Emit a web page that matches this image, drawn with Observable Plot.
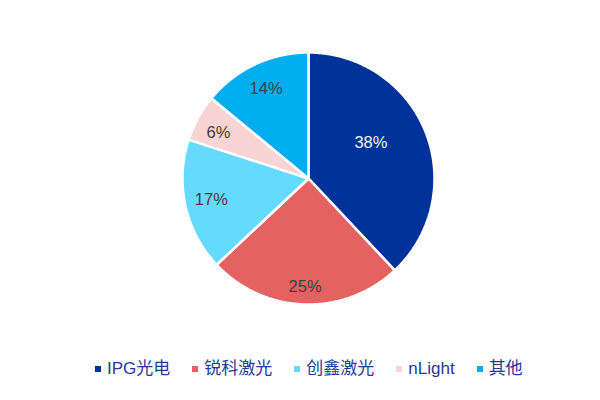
<!DOCTYPE html>
<html>
<head>
<meta charset="utf-8">
<script src="https://cdn.jsdelivr.net/npm/d3@7"></script>
<script src="https://cdn.jsdelivr.net/npm/@observablehq/plot@0.6"></script>
<style>
  html, body { margin: 0; padding: 0; background: #fff; }
  body { width: 600px; height: 400px; overflow: hidden; font-family: "Liberation Sans", Arial, "Noto Sans CJK SC", sans-serif; }
  #legend { display: flex; align-items: center; margin-top: 19px; padding-left: 95px; font-size: 17px; color: #23399A; line-height: 20px; }
  #legend .item { display: flex; align-items: center; margin-right: 22px; }
  #legend .sw { width: 6px; height: 6px; margin-right: 6px; }
</style>
</head>
<body>
<div id="chart"></div>
<script>
const names = ["IPG光电", "锐科激光", "创鑫激光", "nLight", "其他"];
const shares = [38, 25, 17, 6, 14];
const colors = ["#003399", "#E46262", "#66D9FF", "#F9D4D4", "#00AEEF"];

// label placement (layout only): radial factor and angular shift in degrees
const labelRadius = [0.57, 0.86, 0.79, 0.8, 0.79];
const labelShift = [-8, 0, 0, -2, 0];

const arcs = d3.pie().sort(null).value(d => d)(shares);

const rows = [];
arcs.forEach((a, i) => {
  rows.push({name: names[i], x: 0, y: 0});
  const n = Math.max(2, Math.ceil((a.endAngle - a.startAngle) / 0.01));
  for (let k = 0; k <= n; k++) {
    const t = a.startAngle + (a.endAngle - a.startAngle) * k / n;
    rows.push({name: names[i], x: Math.sin(t), y: Math.cos(t)});
  }
  rows.push({name: names[i], x: 0, y: 0});
});

const labels = arcs.map((a, i) => {
  const m = (a.startAngle + a.endAngle) / 2 + labelShift[i] * Math.PI / 180;
  return {name: names[i], text: shares[i] + "%", x: labelRadius[i] * Math.sin(m), y: labelRadius[i] * Math.cos(m), dark: i === 0};
});

const plot = Plot.plot({
  width: 600,
  height: 340,
  marginLeft: 182,
  marginRight: 166,
  marginTop: 52,
  marginBottom: 36,
  x: {domain: [-1, 1], axis: null},
  y: {domain: [-1, 1], axis: null},
  color: {domain: names, range: colors},
  style: {fontFamily: '"Liberation Sans", Arial, "Noto Sans CJK SC", sans-serif', background: "transparent"},
  marks: [
    Plot.line(rows, {x: "x", y: "y", z: "name", fill: "name", stroke: "white", strokeWidth: 2.5, strokeLinejoin: "miter", curve: "linear"}),
    Plot.text(labels.filter(d => d.dark), {x: "x", y: "y", text: "text", fill: "#F2F2F2", fontSize: 16.5}),
    Plot.text(labels.filter(d => !d.dark), {x: "x", y: "y", text: "text", fill: "#404040", fontSize: 16.5})
  ]
});
document.getElementById("chart").appendChild(plot);

const legend = document.createElement("div");
legend.id = "legend";
const cs = plot.scale("color");
cs.domain.forEach((nm, i) => {
  const it = document.createElement("div");
  it.className = "item";
  const sw = document.createElement("span");
  sw.className = "sw";
  sw.style.background = cs.range[i];
  const tx = document.createElement("span");
  tx.textContent = nm;
  it.appendChild(sw);
  it.appendChild(tx);
  legend.appendChild(it);
});
document.getElementById("chart").appendChild(legend);
</script>
</body>
</html>
